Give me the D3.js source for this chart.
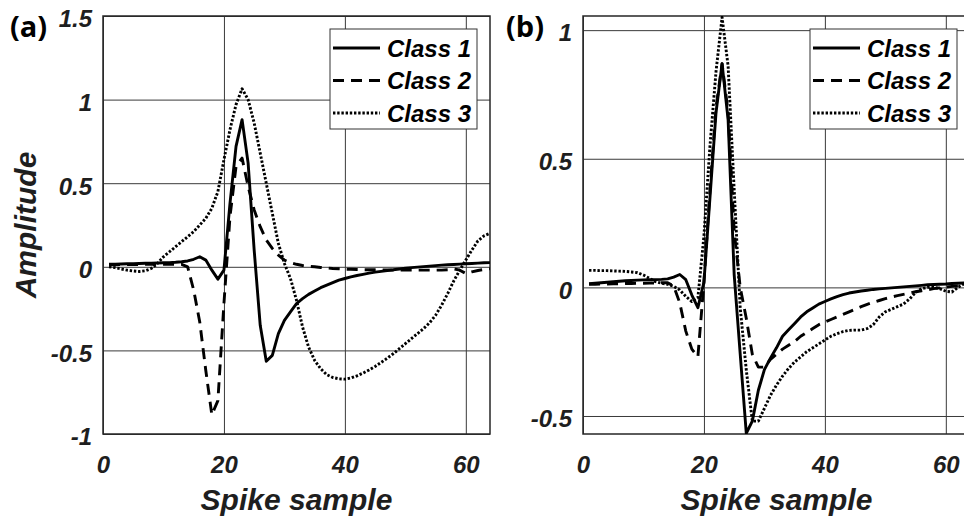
<!DOCTYPE html>
<html>
<head>
<meta charset="utf-8">
<script src="https://cdn.jsdelivr.net/npm/d3@7"></script>
<style>
  body { margin: 0; background: #fff; }
  svg { display: block; }
</style>
</head>
<body>
<div id="chart"></div>
<script>
// Sample index (x axis)
const samples = d3.range(1, 65);

// Panel (a) waveforms
const a1 = [0.015,0.016,0.017,0.018,0.019,0.02,0.021,0.022,0.023,0.024,
  0.025,0.027,0.03,0.035,0.045,0.06,0.04,-0.02,-0.074,-0.02,
  0.38,0.72,0.88,0.62,0.1,-0.35,-0.565,-0.53,-0.4,-0.32,
  -0.27,-0.22,-0.19,-0.165,-0.145,-0.125,-0.11,-0.095,-0.08,-0.07,
  -0.06,-0.052,-0.045,-0.038,-0.032,-0.027,-0.022,-0.018,-0.013,-0.009,
  -0.005,-0.002,0.001,0.004,0.007,0.01,0.012,0.014,0.016,0.018,
  0.02,0.022,0.024,0.025];
const a2 = [0.012,0.012,0.013,0.013,0.014,0.014,0.015,0.015,0.015,0.015,
  0.015,0.015,0.015,0.0,-0.14,-0.33,-0.62,-0.885,-0.8,-0.22,
  0.3,0.6,0.65,0.48,0.34,0.24,0.16,0.11,0.07,0.04,
  0.025,0.015,0.008,0.003,0.0,-0.004,-0.007,-0.01,-0.012,-0.014,
  -0.015,-0.016,-0.017,-0.018,-0.018,-0.019,-0.019,-0.02,-0.02,-0.02,
  -0.02,-0.02,-0.02,-0.02,-0.02,-0.02,-0.018,-0.012,-0.02,-0.04,
  -0.03,-0.022,-0.016,-0.012];
const a3 = [0.0,-0.005,-0.013,-0.02,-0.025,-0.028,-0.024,-0.01,0.02,0.06,
  0.09,0.12,0.15,0.18,0.21,0.25,0.29,0.35,0.45,0.64,
  0.82,0.97,1.065,1.0,0.86,0.68,0.5,0.32,0.14,0.02,
  -0.07,-0.2,-0.36,-0.48,-0.56,-0.61,-0.645,-0.662,-0.67,-0.672,
  -0.665,-0.652,-0.636,-0.617,-0.596,-0.572,-0.547,-0.52,-0.49,-0.46,
  -0.43,-0.4,-0.37,-0.335,-0.29,-0.23,-0.16,-0.085,-0.02,0.04,
  0.1,0.155,0.185,0.2];

// Panel (b) waveforms
const b1 = [0.014,0.016,0.018,0.02,0.022,0.024,0.026,0.027,0.028,0.029,
  0.03,0.03,0.031,0.033,0.04,0.05,0.03,-0.03,-0.079,0.02,
  0.35,0.68,0.87,0.65,0.05,-0.26,-0.567,-0.52,-0.4,-0.32,
  -0.275,-0.235,-0.19,-0.165,-0.14,-0.115,-0.095,-0.08,-0.065,-0.055,
  -0.045,-0.036,-0.028,-0.022,-0.018,-0.014,-0.011,-0.008,-0.006,-0.004,
  -0.002,0.0,0.002,0.004,0.006,0.008,0.01,0.011,0.012,0.013,
  0.015,0.016,0.017,0.018];
const b2 = [0.012,0.012,0.013,0.013,0.014,0.014,0.015,0.015,0.016,0.016,
  0.017,0.017,0.018,0.018,0.005,-0.06,-0.17,-0.24,-0.27,0.02,
  0.38,0.7,0.87,0.68,0.22,0.0,-0.12,-0.26,-0.31,-0.31,
  -0.28,-0.26,-0.24,-0.225,-0.21,-0.19,-0.175,-0.16,-0.145,-0.135,
  -0.125,-0.115,-0.105,-0.095,-0.085,-0.075,-0.066,-0.058,-0.051,-0.044,
  -0.038,-0.032,-0.027,-0.022,-0.017,-0.013,-0.009,-0.005,-0.002,0.001,
  0.004,0.006,0.008,0.01];
const b3 = [0.066,0.066,0.065,0.065,0.064,0.063,0.062,0.06,0.057,0.048,
  0.035,0.022,0.016,0.012,0.004,-0.01,-0.035,-0.055,-0.04,0.2,
  0.55,0.84,1.05,0.86,0.38,-0.08,-0.32,-0.52,-0.52,-0.47,
  -0.42,-0.38,-0.345,-0.315,-0.29,-0.27,-0.25,-0.235,-0.22,-0.205,
  -0.19,-0.18,-0.172,-0.167,-0.166,-0.166,-0.16,-0.145,-0.115,-0.095,
  -0.085,-0.075,-0.065,-0.045,-0.02,-0.005,0.0,0.0,-0.005,-0.015,
  -0.018,0.0,0.014,0.02];

const classNames = ['Class 1', 'Class 2', 'Class 3'];
const xTicks = [0, 20, 40, 60];
const yTicksA = [-1, -0.5, 0, 0.5, 1, 1.5];
const yTicksB = [-0.5, 0, 0.5, 1];

// line styles per class: solid, dashed, dotted
const dashes = [null, '11,7', '2.4,1.8'];

const width = 964, height = 521;
const plotTop = 16, plotBottom = 434;
const textColor = '#1e1e1e';
const tickFont = 'bold italic 24px "Liberation Sans", Arial, sans-serif';
const labelFont = 'bold italic 30px "Liberation Sans", Arial, sans-serif';

const svg = d3.select('#chart').append('svg')
  .attr('width', width)
  .attr('height', height);

function drawPanel(opt) {
  const w = opt.right - opt.left, h = plotBottom - plotTop;

  const x = d3.scaleLinear().domain([0, 64]).range([0, w]);
  const y = d3.scaleLinear().domain(opt.yDomain).range([h, 0]);

  const g = svg.append('g')
    .attr('transform', `translate(${opt.left}, ${plotTop})`);

  g.append('clipPath').attr('id', opt.id + '-clip')
    .append('rect').attr('width', w).attr('height', h);

  // y axis with grid lines
  const yAxis = g.append('g')
    .call(d3.axisLeft(y).tickValues(opt.yTicks).tickSize(-w).tickPadding(11)
      .tickFormat(d => String(d)));
  yAxis.select('.domain').remove();
  yAxis.selectAll('line').attr('stroke', '#3a3a3a').attr('stroke-width', 1);
  yAxis.selectAll('text')
    .attr('dy', '0.45em')
    .style('font', tickFont)
    .attr('fill', textColor);

  // x axis with grid lines
  const xAxis = g.append('g')
    .attr('transform', `translate(0, ${h})`)
    .call(d3.axisBottom(x).tickValues(xTicks).tickSize(-h).tickPadding(22)
      .tickFormat(d => String(d)));
  xAxis.select('.domain').remove();
  xAxis.selectAll('line').attr('stroke', '#3a3a3a').attr('stroke-width', 1);
  xAxis.selectAll('text')
    .style('font', tickFont)
    .attr('fill', textColor);

  // axes box
  g.append('rect')
    .attr('width', w).attr('height', h)
    .attr('fill', 'none')
    .attr('stroke', '#262626')
    .attr('stroke-width', 1.5);

  // waveforms
  const line = d3.line()
    .x((d, i) => x(samples[i]))
    .y(d => y(d));

  const lines = g.append('g').attr('clip-path', `url(#${opt.id}-clip)`);
  opt.series.forEach((s, k) => {
    lines.append('path')
      .datum(s)
      .attr('d', line)
      .attr('fill', 'none')
      .attr('stroke', '#000')
      .attr('stroke-width', 2.9)
      .attr('stroke-linejoin', 'round')
      .attr('stroke-dasharray', dashes[k]);
  });

  // legend
  const legend = g.append('g')
    .attr('transform', `translate(${w - 160}, 13)`);
  legend.append('rect')
    .attr('width', 147).attr('height', 100)
    .attr('fill', '#fff')
    .attr('stroke', '#333')
    .attr('stroke-width', 1);
  classNames.forEach((name, k) => {
    const ly = 19 + k * 32.5;
    legend.append('line')
      .attr('x1', 3).attr('x2', 50)
      .attr('y1', ly).attr('y2', ly)
      .attr('stroke', '#000')
      .attr('stroke-width', 3)
      .attr('stroke-dasharray', dashes[k]);
    legend.append('text')
      .attr('x', 57).attr('y', ly + 8.5)
      .style('font', 'bold italic 24px "Liberation Sans", Arial, sans-serif')
      .attr('fill', '#000')
      .text(name);
  });

  // x axis label
  svg.append('text')
    .attr('x', opt.left + w / 2)
    .attr('y', 510)
    .attr('text-anchor', 'middle')
    .style('font', labelFont)
    .attr('fill', textColor)
    .text('Spike sample');

  // panel tag
  svg.append('text')
    .attr('x', opt.tagX)
    .attr('y', 37)
    .style('font', 'bold 29px "Open Sans", "Noto Sans", sans-serif')
    .attr('fill', '#000')
    .text(opt.tag);
}

drawPanel({ id: 'a', tag: '(a)', tagX: 10, left: 103, right: 490,
  yDomain: [-1, 1.5], yTicks: yTicksA, series: [a1, a2, a3] });
drawPanel({ id: 'b', tag: '(b)', tagX: 506, left: 583, right: 970,
  yDomain: [-0.57, 1.055], yTicks: yTicksB, series: [b1, b2, b3] });

// y axis label (left panel only)
svg.append('text')
  .attr('transform', `translate(36, ${(plotTop + plotBottom) / 2}) rotate(-90)`)
  .attr('text-anchor', 'middle')
  .style('font', labelFont)
  .attr('fill', textColor)
  .text('Amplitude');
</script>
</body>
</html>
